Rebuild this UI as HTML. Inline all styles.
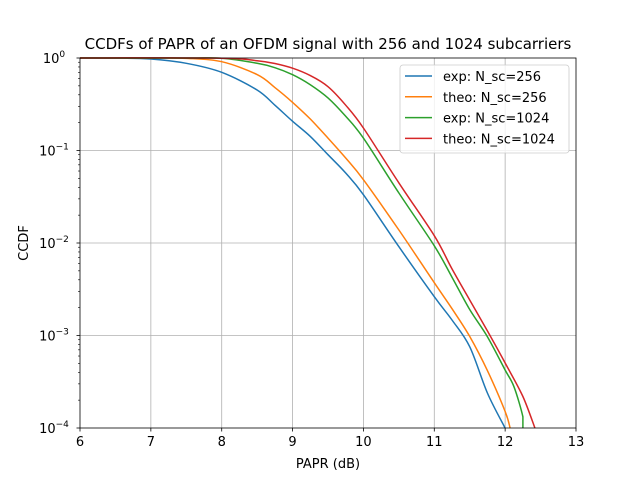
<!DOCTYPE html>
<html><head><meta charset="utf-8"><style>
body{margin:0;background:#fff}
svg{font-family:"DejaVu Sans","Liberation Sans",sans-serif}
</style></head><body>
<svg id="chart" width="640" height="480" xmlns="http://www.w3.org/2000/svg">
<rect width="640" height="480" fill="#fff"/>
<text x="328" y="49" font-size="15" text-anchor="middle">CCDFs of PAPR of an OFDM signal with 256 and 1024 subcarriers</text>
<g id="grid"></g><g id="series"></g><g id="axes"></g>
<text x="328" y="468" font-size="13" text-anchor="middle">PAPR (dB)</text>
<text transform="translate(28,243) rotate(-90)" font-size="13" text-anchor="middle">CCDF</text>
<g id="legend"></g>
</svg>
<script>
const xTicks=[6,7,8,9,10,11,12,13];
const yTicksExp=[0,-1,-2,-3,-4];
const seriesNames=["exp: N_sc=256","theo: N_sc=256","exp: N_sc=1024","theo: N_sc=1024"];
const seriesColors=["#1f77b4","#ff7f0e","#2ca02c","#d62728"];
const xExp256=[6,6.5,7,7.5,8,8.5,8.75,9,9.25,9.5,9.75,10,10.5,11,11.25,11.5,11.75,12];
const yExp256=[1,0.998,0.975,0.877,0.70,0.451,0.309,0.207,0.142,0.0901,0.0571,0.0333,0.00912,0.00263,0.00147,0.000757,0.000239,0.0001];
const xTheo256=[6,7,7.5,8,8.5,8.75,9,9.25,9.5,9.75,10,10.5,11,11.25,11.5,11.75,12,12.07];
const yTheo256=[1,0.998,0.99,0.912,0.661,0.479,0.331,0.219,0.136,0.083,0.0483,0.01383,0.00372,0.00195,0.000977,0.000417,0.000151,0.0001];
const xExp1024=[6,7.5,8,8.5,8.75,9,9.25,9.5,9.75,10,10.5,11,11.25,11.5,11.75,12,12.125,12.25,12.25];
const yExp1024=[1,0.999,0.993,0.877,0.785,0.660,0.514,0.370,0.234,0.136,0.0347,0.00933,0.00427,0.00191,0.00097,0.000424,0.000279,0.000132,0.0001];
const xTheo1024=[6,8,8.5,8.75,9,9.25,9.5,9.75,10,10.5,11,11.25,11.5,11.75,12,12.25,12.42];
const yTheo1024=[1,0.995,0.933,0.871,0.776,0.646,0.490,0.309,0.175,0.0446,0.0120,0.00525,0.00242,0.00112,0.000505,0.000219,0.0001];
const X0=80,X1=576,Y0=58,Y1=428;
const xs=v=>X0+(v-6)/7*(X1-X0);
const ys=v=>Y0+(-Math.log10(v))/4*(Y1-Y0);
const NS="http://www.w3.org/2000/svg";
function mk(t,a,p){const e=document.createElementNS(NS,t);for(const k in a)e.setAttribute(k,a[k]);p.appendChild(e);return e;}
const grid=document.getElementById('grid'),axes=document.getElementById('axes'),ser=document.getElementById('series'),leg=document.getElementById('legend');
xTicks.forEach(t=>{const x=xs(t);
 if(t>6&&t<13){const g=mk('line',{x1:x,x2:x,y1:Y0,y2:Y1,stroke:'#b0b0b0','stroke-width':0.8},grid);
 
 }
 mk('line',{x1:x,x2:x,y1:Y1,y2:Y1+3.5,stroke:'#000','stroke-width':0.8},axes);
 const tx=mk('text',{x:x,y:Y1+18,'font-size':13,'text-anchor':'middle'},axes);tx.textContent=t;
 
 });
yTicksExp.forEach(e=>{const y=ys(Math.pow(10,e));
 if(e<0&&e>-4){const g=mk('line',{x1:X0,x2:X1,y1:y,y2:y,stroke:'#b0b0b0','stroke-width':0.8},grid);
 
 }
 mk('line',{x1:X0-3.5,x2:X0,y1:y,y2:y,stroke:'#000','stroke-width':0.8},axes);
 for(let d=2;d<10&&e>-4;d++){const yy=ys(Math.pow(10,e-1)*d);mk('line',{x1:X0-2,x2:X0,y1:yy,y2:yy,stroke:'#000','stroke-width':0.6},axes);}
 const tx=mk('text',{x:X0-26,y:y+5,'font-size':13,'text-anchor':'middle'},axes);
 
 
 tx.innerHTML='10<tspan dy="-6" font-size="9">'+(e<0?'\u2212'+(-e):e)+'</tspan>';});
mk('rect',{x:X0,y:Y0,width:X1-X0,height:Y1-Y0,fill:'none',stroke:'#000','stroke-width':0.8},axes);
function smooth(P){
 let d='M'+P[0][0].toFixed(1)+','+P[0][1].toFixed(1);
 for(let i=0;i<P.length-1;i++){
  const p0=P[Math.max(0,i-1)],p1=P[i],p2=P[i+1],p3=P[Math.min(P.length-1,i+2)];
  if(Math.abs(p2[0]-p1[0])<0.01){d+=' L'+p2[0].toFixed(1)+','+p2[1].toFixed(1);continue;}
  const c1=[p1[0]+(p2[0]-p0[0])/6,p1[1]+(p2[1]-p0[1])/6],c2=[p2[0]-(p3[0]-p1[0])/6,p2[1]-(p3[1]-p1[1])/6];
  d+=' C'+c1.map(v=>v.toFixed(1))+' '+c2.map(v=>v.toFixed(1))+' '+p2[0].toFixed(1)+','+p2[1].toFixed(1);
 }
 return d;}
const allX=[xExp256,xTheo256,xExp1024,xTheo1024],allY=[yExp256,yTheo256,yExp1024,yTheo1024];
allX.forEach((xa,i)=>{const P=xa.map((x,j)=>[xs(x),ys(allY[i][j])]);
 const p=mk('path',{d:smooth(P),fill:'none',stroke:seriesColors[i],'stroke-width':1.5},ser);
 
 });
const lb=mk('rect',{x:400,y:65,width:169,height:88,rx:3,fill:'#fff','fill-opacity':0.8,stroke:'#ccc','stroke-width':0.8},leg);


seriesNames.forEach((n,i)=>{const y=76+i*20.8;
 mk('line',{x1:405,x2:432,y1:y,y2:y,stroke:seriesColors[i],'stroke-width':1.5},leg);
 const t=mk('text',{x:443,y:y+5,'font-size':13},leg);t.textContent=n;
 
 });
</script>
</body></html>
